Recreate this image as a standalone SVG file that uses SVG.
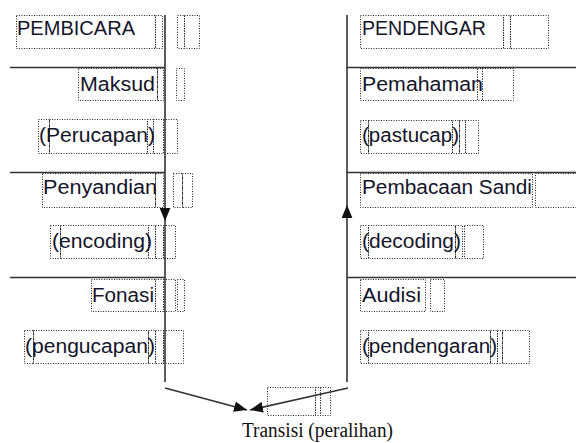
<svg xmlns="http://www.w3.org/2000/svg" width="576" height="443" viewBox="0 0 576 443">
<defs>
<style>
.bx{fill:none;stroke:#222;stroke-width:1;stroke-dasharray:1 1.5}
.t{font-family:"Liberation Sans",Arial,sans-serif;font-size:20px;fill:#14142a}
.s{font-family:"Liberation Serif","Times New Roman",serif;font-size:20px;fill:#111}
.ln{fill:none;stroke:#333;stroke-width:1.6}
</style>
<marker id="ah" viewBox="0 0 12 10" markerUnits="userSpaceOnUse" markerWidth="13" markerHeight="11" refX="12" refY="5" orient="auto">
<path d="M0,0 L12,5 L0,10 z" fill="#111"/>
</marker>
</defs>
<rect width="576" height="443" fill="#fff"/>

<g id="pembicara">
<rect class="bx" x="16.5" y="15.5" width="139" height="33"/>
<rect class="bx" x="155.5" y="15.5" width="7" height="33"/>
<rect class="bx" x="177.5" y="15.5" width="7" height="33"/>
<rect class="bx" x="184.5" y="15.5" width="15" height="33"/>
<text class="t" x="17" y="35" textLength="118" lengthAdjust="spacingAndGlyphs">PEMBICARA</text>
</g>
<g id="maksud">
<rect class="bx" x="78.5" y="68.5" width="79" height="32"/>
<rect class="bx" x="157.5" y="68.5" width="6" height="32"/>
<rect class="bx" x="176.5" y="68.5" width="8" height="32"/>
<text class="t" x="80" y="91" textLength="75" lengthAdjust="spacingAndGlyphs">Maksud</text>
</g>
<g id="perucapan">
<rect class="bx" x="38.5" y="119.5" width="11" height="34"/>
<rect class="bx" x="49.5" y="119.5" width="98" height="34"/>
<rect class="bx" x="147.5" y="119.5" width="6" height="34"/>
<rect class="bx" x="153.5" y="119.5" width="10" height="34"/>
<rect class="bx" x="163.5" y="119.5" width="14" height="34"/>
<text class="t" x="39" y="142" textLength="116" lengthAdjust="spacingAndGlyphs">(Perucapan)</text>
</g>
<g id="penyandian">
<rect class="bx" x="42.5" y="173.5" width="113" height="34"/>
<rect class="bx" x="155.5" y="173.5" width="8" height="34"/>
<rect class="bx" x="173.5" y="173.5" width="9" height="34"/>
<rect class="bx" x="182.5" y="173.5" width="10" height="34"/>
<text class="t" x="43" y="194" textLength="114" lengthAdjust="spacingAndGlyphs">Penyandian</text>
</g>
<g id="encoding">
<rect class="bx" x="50.5" y="225.5" width="10" height="33"/>
<rect class="bx" x="60.5" y="225.5" width="88" height="33"/>
<rect class="bx" x="148.5" y="225.5" width="7" height="33"/>
<rect class="bx" x="155.5" y="225.5" width="8" height="33"/>
<rect class="bx" x="163.5" y="225.5" width="12" height="33"/>
<text class="t" x="52" y="248" textLength="100" lengthAdjust="spacingAndGlyphs">(encoding)</text>
</g>
<g id="fonasi">
<rect class="bx" x="91.5" y="279.5" width="64" height="32"/>
<rect class="bx" x="155.5" y="279.5" width="8" height="32"/>
<rect class="bx" x="163.5" y="279.5" width="12" height="32"/>
<rect class="bx" x="177.5" y="279.5" width="7" height="32"/>
<text class="t" x="92" y="302" textLength="62" lengthAdjust="spacingAndGlyphs">Fonasi</text>
</g>
<g id="pengucapan">
<rect class="bx" x="24.5" y="330.5" width="9" height="33"/>
<rect class="bx" x="33.5" y="330.5" width="115" height="33"/>
<rect class="bx" x="148.5" y="330.5" width="7" height="33"/>
<rect class="bx" x="155.5" y="330.5" width="8" height="33"/>
<rect class="bx" x="163.5" y="330.5" width="20" height="33"/>
<text class="t" x="25" y="353" textLength="130" lengthAdjust="spacingAndGlyphs">(pengucapan)</text>
</g>

<g id="pendengar">
<rect class="bx" x="360.5" y="15.5" width="143" height="33"/>
<rect class="bx" x="503.5" y="15.5" width="7" height="33"/>
<rect class="bx" x="510.5" y="15.5" width="38" height="33"/>
<text class="t" x="362" y="35" textLength="124" lengthAdjust="spacingAndGlyphs">PENDENGAR</text>
</g>
<g id="pemahaman">
<rect class="bx" x="360.5" y="68.5" width="117" height="32"/>
<rect class="bx" x="477.5" y="68.5" width="5" height="32"/>
<rect class="bx" x="482.5" y="68.5" width="31" height="32"/>
<text class="t" x="362" y="91" textLength="121" lengthAdjust="spacingAndGlyphs">Pemahaman</text>
</g>
<g id="pastucap">
<rect class="bx" x="360.5" y="120.5" width="8" height="33"/>
<rect class="bx" x="368.5" y="120.5" width="84" height="33"/>
<rect class="bx" x="452.5" y="120.5" width="7" height="33"/>
<rect class="bx" x="459.5" y="120.5" width="6" height="33"/>
<rect class="bx" x="465.5" y="120.5" width="13" height="33"/>
<text class="t" x="362" y="142" textLength="97" lengthAdjust="spacingAndGlyphs">(pastucap)</text>
</g>
<g id="pembacaan-sandi">
<rect class="bx" x="360.5" y="173.5" width="172" height="34"/>
<rect class="bx" x="535.5" y="173.5" width="41" height="34"/>
<text class="t" x="362" y="194" textLength="170" lengthAdjust="spacingAndGlyphs">Pembacaan Sandi</text>
</g>
<g id="decoding">
<rect class="bx" x="360.5" y="225.5" width="8" height="33"/>
<rect class="bx" x="368.5" y="225.5" width="87" height="33"/>
<rect class="bx" x="455.5" y="225.5" width="7" height="33"/>
<rect class="bx" x="464.5" y="225.5" width="19" height="33"/>
<text class="t" x="362" y="248" textLength="99" lengthAdjust="spacingAndGlyphs">(decoding)</text>
</g>
<g id="audisi">
<rect class="bx" x="360.5" y="279.5" width="65" height="32"/>
<rect class="bx" x="430.5" y="279.5" width="14" height="32"/>
<text class="t" x="362" y="302" textLength="59" lengthAdjust="spacingAndGlyphs">Audisi</text>
</g>
<g id="pendengaran">
<rect class="bx" x="360.5" y="330.5" width="8" height="33"/>
<rect class="bx" x="368.5" y="330.5" width="122" height="33"/>
<rect class="bx" x="490.5" y="330.5" width="7" height="33"/>
<rect class="bx" x="497.5" y="330.5" width="5" height="33"/>
<rect class="bx" x="502.5" y="330.5" width="27" height="33"/>
<text class="t" x="362" y="353" textLength="135" lengthAdjust="spacingAndGlyphs">(pendengaran)</text>
</g>

<g id="transisi">
<rect class="bx" x="267.5" y="387.5" width="48" height="28"/>
<rect class="bx" x="315.5" y="387.5" width="5" height="28"/>
<rect class="bx" x="320.5" y="387.5" width="10" height="28"/>
<text class="s" x="242" y="437" textLength="151" lengthAdjust="spacingAndGlyphs">Transisi (peralihan)</text>
</g>

<g id="connectors">
<line class="ln" x1="10" y1="67.5" x2="165" y2="67.5"/>
<line class="ln" x1="10" y1="172.5" x2="165" y2="172.5"/>
<line class="ln" x1="10" y1="277.5" x2="165" y2="277.5"/>
<line class="ln" x1="347" y1="67.5" x2="576" y2="67.5"/>
<line class="ln" x1="347" y1="172.5" x2="576" y2="172.5"/>
<line class="ln" x1="347" y1="277.5" x2="576" y2="277.5"/>
<line class="ln" x1="165" y1="15" x2="165" y2="221" marker-end="url(#ah)"/>
<line class="ln" x1="165" y1="221" x2="165" y2="382"/>
<line class="ln" x1="347" y1="382" x2="347" y2="205" marker-end="url(#ah)"/>
<line class="ln" x1="347" y1="205" x2="347" y2="15"/>
<line class="ln" x1="165" y1="388" x2="247" y2="410" marker-end="url(#ah)"/>
<line class="ln" x1="348" y1="388" x2="250" y2="410" marker-end="url(#ah)"/>
</g>
</svg>
